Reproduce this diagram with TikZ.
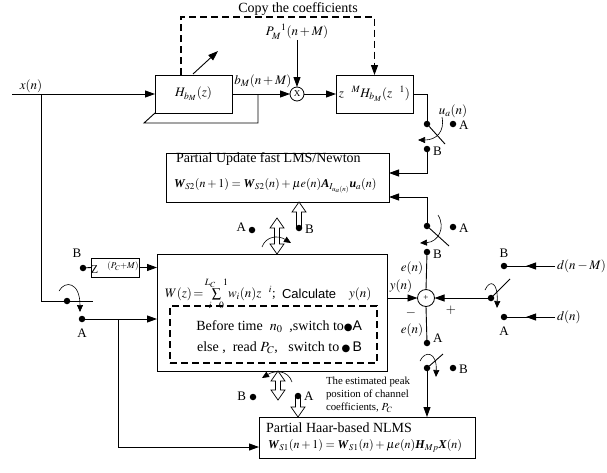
\documentclass[tikz,border=0pt]{standalone}
\usepackage{mathptmx}
\usepackage{fontspec}
\setmainfont{Liberation Serif}
\setsansfont{Liberation Sans}
\newfontfamily\dejavu{DejaVu Sans}
\usetikzlibrary{arrows.meta,calc}
\newcommand\bvec[1]{\textbf{\textit{#1}}}
\newcommand\nm{\phantom{-}}
\newcommand{\myhdbl}[3]{\draw[hollow] (#1,#2) -- (#1+7,#2+10) -- (#1+2.5,#2+10) -- (#1+2.5,#3-10) -- (#1+7,#3-10) -- (#1,#3) -- (#1-7,#3-10) -- (#1-2.5,#3-10) -- (#1-2.5,#2+10) -- (#1-7,#2+10) -- cycle;}
\newcommand{\myhup}[3]{\draw[hollow] (#1,#2) -- (#1+7,#2+10) -- (#1+2.5,#2+10) -- (#1+2.5,#3) -- (#1-2.5,#3) -- (#1-2.5,#2+10) -- (#1-7,#2+10) -- cycle;}
\newcommand{\myhdown}[3]{\draw[hollow] (#1-2.5,#2) -- (#1+2.5,#2) -- (#1+2.5,#3-10) -- (#1+7,#3-10) -- (#1,#3) -- (#1-7,#3-10) -- (#1-2.5,#3-10) -- cycle;}
\begin{document}
\begin{tikzpicture}[x=1pt,y=-1pt,
  every node/.style={inner sep=0pt,outer sep=0pt},
  wire/.style={line width=0.9pt},
  arr/.style={wire,-{Triangle[length=10pt,width=7pt]}},
  sarr/.style={line width=0.6pt,-{Triangle[length=7pt,width=6pt]}},
  box/.style={draw,line width=0.9pt},
  dot/.style={circle,fill,minimum size=6.5pt,inner sep=0pt},
  lbl/.style={font=\fontsize{13}{15}\selectfont},
  ttl/.style={font=\fontsize{14}{16}\selectfont},
  eq/.style={font=\fontsize{12}{14}\selectfont},
  small/.style={font=\fontsize{10.8}{13}\selectfont},
  hollow/.style={draw,line width=0.7pt,fill=white},
  dashline/.style={line width=1.2pt,dash pattern=on 7pt off 4pt},
]
\useasboundingbox (0,0) rectangle (607,472);

% ---------- boxes ----------
\node[box,minimum width=77pt,minimum height=38pt,lbl] (hb) at (193.5,94) {$H_{b_M}(z)$};
\node[box,minimum width=77pt,minimum height=38pt,lbl] (zh) at (374.5,94) {$z^{\nm M}H_{b_M}(z^{\nm 1})$};
\node[circle,draw,line width=0.8pt,minimum size=14pt,font=\fontsize{9}{9}\selectfont] (mul) at (297,94) {X};
\node[box,minimum width=223pt,minimum height=49pt] (pu) at (277.5,177.5) {};
\node[box,minimum width=230pt,minimum height=117pt] (wb) at (272,312.5) {};
\node[draw,dashline,minimum width=207pt,minimum height=57pt] (db) at (273.5,334.5) {};
\node[box,minimum width=216pt,minimum height=41pt] (haar) at (367,437.5) {};
\node[box,minimum width=44pt,minimum height=19pt,font=\fontsize{12}{14}\selectfont] (zb) at (115,267.5) {Z\,$^{\nm(P_C+M)}$};
\node[circle,draw,line width=0.8pt,minimum size=17pt,font=\fontsize{9}{9}\selectfont] (sum) at (426,298) {+};

% ---------- box texts ----------
\node[ttl,anchor=west] (putitle) at (176,159) {Partial Update fast LMS/Newton};
\node[eq,anchor=west] (pueq) at (174,186) {$\bvec{W}_{S2}(n+1)=\bvec{W}_{S2}(n)+\mu e(n)\bvec{A}_{I_{u_a(n)}}\bvec{u}_a(n)$};
\node[ttl,anchor=west] (haartitle) at (266,428) {Partial Haar-based NLMS};
\node[eq,anchor=west] (haareq) at (268,446) {$\bvec{W}_{S1}(n+1)=\bvec{W}_{S1}(n)+\mu e(n)\bvec{H}_{Mp}\bvec{X}(n)$};
\node[lbl,anchor=west] (wtext) at (165,294) {$W(z)\!=\!\sum\limits_{i\nm 0}^{L_C\nm 1}\! w_i(n)z^{\nm i}$;};
\node[font=\sffamily\fontsize{13}{15}\selectfont,anchor=west] (calc) at (282,294) {Calculate};
\node[lbl,anchor=west] (wy) at (349,294) {$y(n)$};
\node[ttl,anchor=east] (dl1) at (362,327) {Before time\ \ $n_0$\ \ ,switch to{\dejavu\fontsize{10}{10}\selectfont ●}\textsf{A}};
\node[ttl,anchor=east] (dl2) at (362,348) {else ,\ \ read $P_C$,\ \ \ switch to\,{\dejavu\fontsize{10}{10}\selectfont ●}\,\textsf{B}};

% ---------- top part ----------
\coordinate (xin) at (12,94);
\coordinate (xbr) at (41,94);
\node[lbl] (xlab) at (31,86) {$x(n)$};
\draw[arr] (xin) -- (hb.west);
\coordinate (fb1) at (258,94);
\coordinate (fb2) at (258,123);
\coordinate (fb3) at (144,123);
\draw[wire] (fb1) -- (fb2) -- (fb3) -- (hb.south west);
\draw[arr] (hb.east) -- (mul.west);
\node[lbl] (blab) at (263,81) {$b_M(n+M)$};
\coordinate (ad1) at (193,74);
\coordinate (ad2) at (218,51);
\draw[arr] (ad1) -- (ad2);
\coordinate (cp1) at (181,75);
\coordinate (cp2) at (374.5,17);
\draw[dashline,-{Triangle[length=10pt,width=7pt]}] (cp1) |- (cp2) -- (zh.north);
\node[ttl] (copy) at (298,9) {Copy the coefficients};
\node[lbl] (plab) at (297,32) {$P_M^{\nm 1}(n+M)$};
\draw[arr] (plab.south) -- (mul.north);
\draw[arr] (mul.east) -- (zh.west);

% ---------- upper right switch (u_a) ----------
\node[dot] (sw1) at (427,124) {};
\coordinate (bl1) at (445,144);
\node[dot] (dA2) at (453,124) {};
\node[dot] (dB2) at (427,149) {};
\node[lbl,anchor=west] at (459,125) {A};
\node[lbl,anchor=west] at (433,151) {B};
\node[lbl] (ualab) at (453,111) {$u_a(n)$};
\draw[wire] (zh.east) -| (sw1);
\draw[wire] (sw1) -- (bl1);
\draw[sarr] (442,117) .. controls (445,132) and (436,140) .. (418,140);
\draw[arr] (dB2) |- (pu.east |- 0,173);

% ---------- middle right switch (e) ----------
\node[dot] (sw2) at (427,226) {};
\coordinate (bl2) at (449,246);
\node[dot] (dA3) at (453,227) {};
\node[dot] (dB3) at (427,252) {};
\node[lbl,anchor=west] at (459,228) {A};
\node[lbl,anchor=west] at (433,254) {B};
\draw[wire] (sw2) -- (bl2);
\draw[sarr] (438,215) .. controls (446,228) and (438,242) .. (420,243);
\draw[arr] (sw2) |- (pu.east |- 0,197);
\draw[wire] (dB3) -- (sum.north);
\node[lbl] (e1) at (412,268) {$e(n)$};

% ---------- summation ----------
\draw[arr] (wb.east |- sum) -- (sum.west);
\node[lbl] (ylab) at (401,286) {$y(n)$};
\node[lbl] (minus) at (411,313) {$-$};
\node[lbl] (plus) at (451,310) {$+$};
\node[dot] (dA4) at (427,343) {};
\node[lbl,anchor=west] at (433,338) {A};
\node[lbl] (e2) at (412,330) {$e(n)$};
\draw[wire] (sum.south) -- (dA4);

% ---------- lower right switch ----------
\node[dot] (sw3) at (427,368) {};
\coordinate (bl3) at (443,354);
\node[dot] (dB4) at (453,368) {};
\node[lbl,anchor=west] at (459,369) {B};
\draw[wire] (sw3) -- (bl3);
\draw[sarr] (420,361) .. controls (425,350) and (437,352) .. (436,377);
\draw[arr] (sw3) -- (haar.north -| sw3);

% ---------- right switch (d) ----------
\node[dot] (sw4) at (491,298) {};
\coordinate (bl4) at (510,279);
\node[dot] (dB5) at (504,266) {};
\node[dot] (dA5) at (504,317) {};
\node[lbl] at (504,253) {B};
\node[lbl] at (504,331) {A};
\draw[arr] (sw4) -- (sum.east);
\draw[wire] (sw4) -- (bl4);
\draw[sarr] (485,290) .. controls (490,279) and (498,282) .. (497,308);
\coordinate (dnm) at (555,266);
\coordinate (dn) at (555,317);
\coordinate (m1) at (526,266);
\coordinate (m2) at (526,317);
\draw[wire] (dnm) -- (dB5);
\draw[arr] (dnm) -- (m1);
\draw[wire] (dn) -- (dA5);
\draw[arr] (dn) -- (m2);
\node[lbl,anchor=west] (dnml) at (557,266) {$d(n-M)$};
\node[lbl,anchor=west] (dnl) at (557,317) {$d(n)$};

% ---------- left switch ----------
\node[dot] (swL) at (67,301) {};
\coordinate (bL) at (93,301);
\node[dot] (dB1) at (83,268) {};
\node[dot] (dA1) at (82,319) {};
\node[lbl] at (77,253) {B};
\node[lbl] at (82,333) {A};
\draw[wire] (xbr) |- (swL);
\draw[wire] (swL) -- (bL);
\draw[sarr] (59,291) .. controls (65,280) and (80,282) .. (80,312);
\draw[wire] (dB1) -- (zb.west);
\draw[arr] (zb.east) -- (zb.east -| wb.west);
\draw[arr] (dA1) -- (dA1 -| wb.west);
\coordinate (br2) at (118,319);
\draw[arr] (br2) |- (haar.west |- 0,447);

% ---------- hollow arrows ----------
\myhup{299}{202}{228}
\node[dot] (dB6) at (299,228) {};
\node[lbl,anchor=west] at (305,229) {B};
\myhdbl{277}{218}{254}
\node[dot] (dA6) at (252,230) {};
\node[lbl,anchor=east] at (246,227) {A};
\draw[sarr] (262,247) .. controls (266,236) and (278,235) .. (291,243);

\myhdbl{278}{371}{400}
\node[dot] (dB7) at (253,397) {};
\node[lbl,anchor=east] at (246,396) {B};
\myhdown{298}{396}{417}
\node[dot] (dA7) at (298,396) {};
\node[lbl,anchor=west] at (304,396) {A};
\draw[sarr] (292,382) .. controls (288,370) and (275,370) .. (262,378);
\node[small,anchor=north west,align=left] (note) at (326,377) {The estimated peak\\position of channel\\coefficients, $P_C$};
\end{tikzpicture}
\end{document}
